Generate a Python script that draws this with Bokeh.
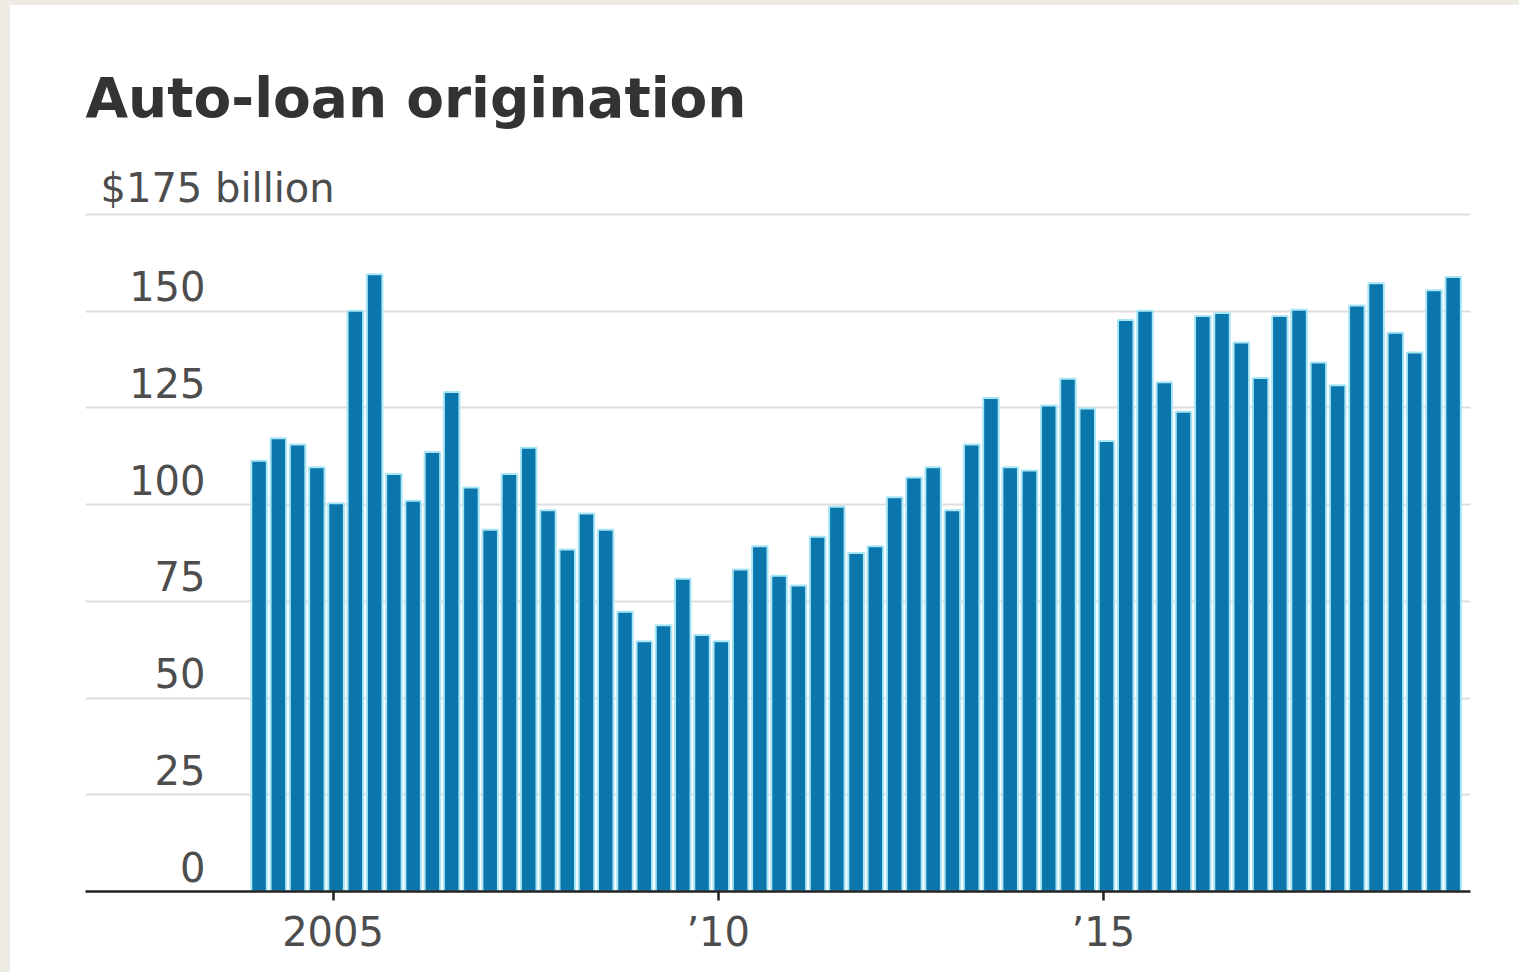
from bokeh.plotting import figure
from bokeh.models import FixedTicker, ColumnDataSource, Range1d
from bokeh.layouts import column
from bokeh.embed import file_html
from bokeh.resources import INLINE
from bokeh.core.properties import value

# ---- data ----
title_text = "Auto-loan origination"
unit_label = "$175 billion"
unit_tick = 175

quarters = [f"{y}Q{q}" for y in range(2004, 2020) for q in range(1, 5)][:63]
origination = [
    111.3, 117.1, 115.5, 109.6, 100.3, 150.1, 159.5, 107.9, 101.0, 113.6,
    129.1, 104.4, 93.5, 107.9, 114.7, 98.5, 88.4, 97.7, 93.5, 72.3,
    64.7, 68.8, 80.8, 66.3, 64.7, 83.2, 89.2, 81.6, 79.1, 91.7,
    99.4, 87.5, 89.2, 101.9, 107.0, 109.6, 98.5, 115.5, 127.5, 109.6,
    108.8, 125.6, 132.5, 124.8, 116.4, 147.7, 150.1, 131.6, 124.0, 148.7,
    149.5, 141.9, 132.7, 148.7, 150.3, 136.7, 130.8, 151.4, 157.2, 144.4,
    139.3, 155.4, 158.8,
]
y_ticks = [0, 25, 50, 75, 100, 125, 150]
y_tick_labels = ["0", "25", "50", "75", "100", "125", "150"]
x_ticks = [2005, 2010, 2015]
x_tick_labels = ["2005", "\u201910", "\u201915"]

# ---- layout constants ----
X0, X1 = 2001.787, 2019.765
Y0, Y1 = 0, 188.9
FONT = "DejaVu Sans"
LABEL_COLOR = "#4d4d4d"

xpos = [int(s[:4]) + (int(s[-1]) - 1) / 4 + 0.04 for s in quarters]
src = ColumnDataSource(dict(x=xpos, top=origination, q=quarters))

fig = figure(
    width=1509, height=967,
    output_backend="svg", toolbar_location=None,
    x_range=Range1d(X0, X1), y_range=Range1d(Y0, Y1),
    y_axis_location=None,
    min_border_left=75, min_border_right=49,
    min_border_bottom=81, min_border_top=155,
    outline_line_color=None,
    background_fill_color="white", border_fill_color="white",
)

fig.title.text = title_text
fig.title.text_font = FONT
fig.title.text_font_style = "bold"
fig.title.text_font_size = "55px"
fig.title.text_color = "#333333"
fig.title.align = "left"
fig.title.standoff = 62

fig.ygrid.ticker = FixedTicker(ticks=y_ticks + [unit_tick])
fig.ygrid.grid_line_color = "#dedede"
fig.ygrid.grid_line_width = 2
fig.xgrid.visible = False

fig.vbar(x="x", top="top", width=0.201, source=src,
         fill_color="#0a76ac", line_color="#a8e6f5", line_width=2)

ax = fig.xaxis[0]
ax.ticker = FixedTicker(ticks=x_ticks)
ax.major_label_overrides = dict(zip(x_ticks, x_tick_labels))
ax.axis_line_color = "#222222"
ax.axis_line_width = 2.5
ax.major_tick_line_color = "#222222"
ax.major_tick_line_width = 2.5
ax.major_tick_out = 9
ax.major_tick_in = 0
ax.minor_tick_line_color = None
ax.major_label_text_font = FONT
ax.major_label_text_font_size = "40px"
ax.major_label_text_color = LABEL_COLOR
ax.major_label_standoff = 8

fig.text(x=[X0] * len(y_ticks), y=y_ticks, text=y_tick_labels,
         x_offset=120, y_offset=-25, text_align="right", text_baseline="alphabetic",
         text_font=value(FONT), text_font_size="40px", text_color=LABEL_COLOR)
fig.text(x=[X0], y=[unit_tick], text=[unit_label],
         x_offset=15, y_offset=-26, text_align="left", text_baseline="alphabetic",
         text_font=value(FONT), text_font_size="40px", text_color=LABEL_COLOR)

p = column(fig, styles={"background-color": "white",
                        "border-left": "10px solid #eeebe4",
                        "border-top": "5px solid #eeebe4"})

open("out.html", "w").write(file_html(p, INLINE))
